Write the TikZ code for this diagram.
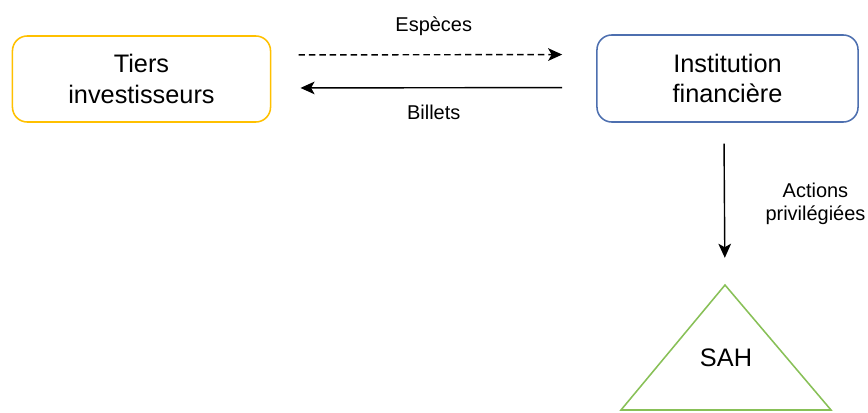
\documentclass[tikz,border=0pt]{standalone}
\usepackage{fontspec}
\setmainfont{Liberation Sans}
\usepackage{tikz}
\usetikzlibrary{arrows.meta}
\usetikzlibrary{positioning}

\begin{document}
\begin{tikzpicture}[x=0.025cm,y=-0.025cm,->,>={Stealth[length=10pt,width=9pt,inset=2.5pt]},
                    line width=1pt,
                    party node/.style={rectangle,rounded corners=0.37cm,draw,line width=1.1pt,align=center,
                                       font=\fontsize{18}{21.5}\selectfont},
                    flow label/.style={align=center,font=\fontsize{14.2}{16.4}\selectfont}]

\useasboundingbox (0,0) rectangle (868,413);

\node[party node] (tiers) at (141.5,79) [draw={rgb,255:red,255;green,192;blue,0},
      minimum width=6.45cm, minimum height=2.15cm] {Tiers\\investisseurs};
\node[party node] (inst) at (727.5,78.5) [draw={rgb,255:red,77;green,111;blue,175},
      minimum width=6.525cm, minimum height=2.175cm] {Institution\\financière};

\coordinate (apex) at (725,285);
\coordinate (bl) at (621,410);
\coordinate (br) at (831,410);
\draw[-,line width=1.1pt,draw={rgb,255:red,136;green,192;blue,87},line join=miter]
    (apex) -- (bl) -- (br) -- cycle;
\node[party node, draw=none] (sah) at (726,358) {SAH};

  \path
    ([yshift=0.6cm]tiers.east) edge [dash pattern=on 4.6pt off 2.8pt, shorten <=0.68cm, shorten >=0.85cm]
        node[flow label, midway, yshift=0.725cm] (esp) {Espèces} ([yshift=0.6cm]inst.west)
    ([yshift=-0.225cm]inst.west) edge [shorten <=0.85cm, shorten >=0.73cm]
        node[flow label, midway, yshift=-0.625cm] (bil) {Billets} ([yshift=-0.225cm]tiers.east)
    ([xshift=-0.09cm]inst.south) edge [shorten <=0.52cm, shorten >=0.68cm]
        node[flow label, midway, xshift=2.275cm] (act) {Actions\\privilégiées} (apex)
;
\end{tikzpicture}
\end{document}
